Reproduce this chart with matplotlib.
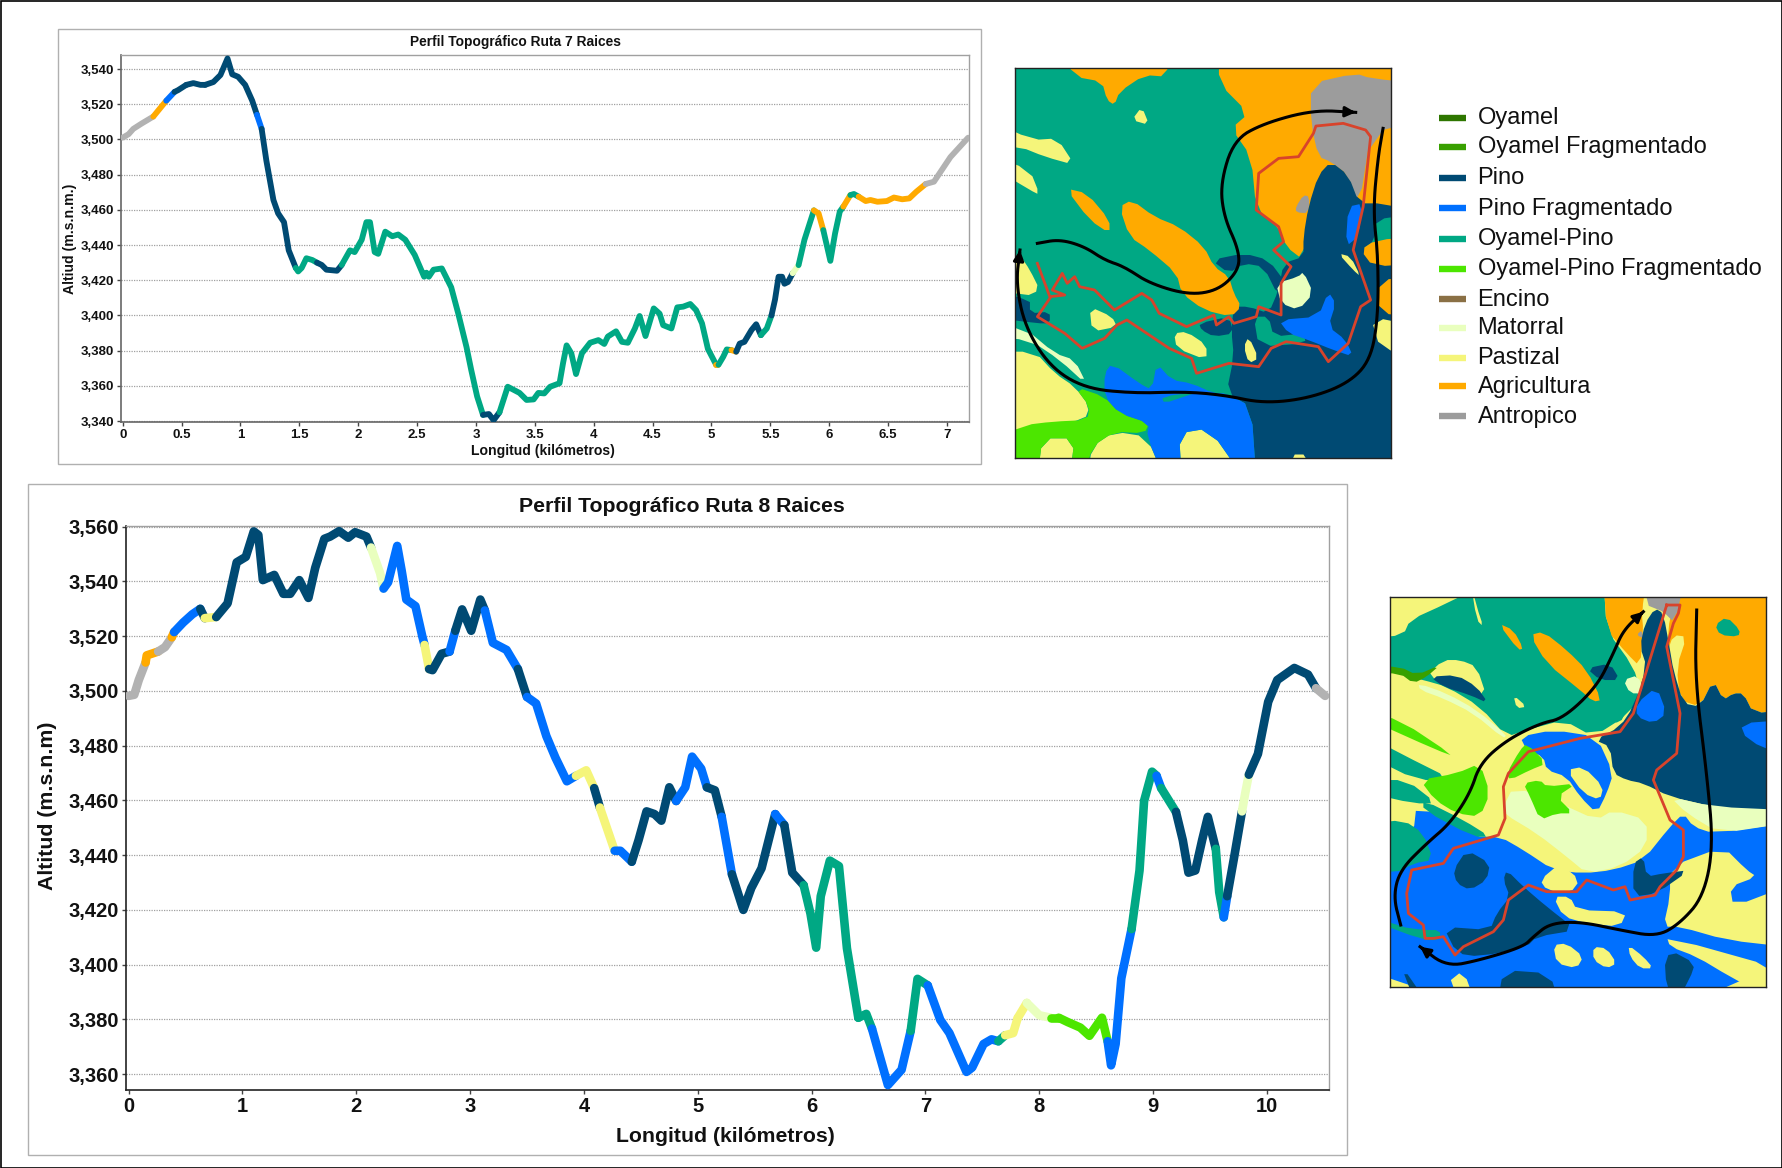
import numpy as np
import matplotlib
matplotlib.use("Agg")
import matplotlib.pyplot as plt
from matplotlib.patches import Polygon, Rectangle
from matplotlib.lines import Line2D

plt.rcParams['font.family'] = ['Liberation Sans', 'DejaVu Sans']

W, H = 1782, 1168

# ---------- legend classes ----------
class_names = ["Oyamel", "Oyamel Fragmentado", "Pino", "Pino Fragmentado", "Oyamel-Pino",
               "Oyamel-Pino Fragmentado", "Encino", "Matorral", "Pastizal", "Agricultura", "Antropico"]
class_colors = ["#2E7600", "#38A000", "#004A73", "#0070FF", "#00A884",
                "#4CE600", "#8A7045", "#E9FFBE", "#F5F57A", "#FFAA00", "#9C9C9C"]
COL = dict(zip(class_names, class_colors))
ROUTE_COL = dict(COL, Antropico="#B2B2B2")
OFG, P, PF, OP, OPF, MT, PZ, AG, AN = ("Oyamel Fragmentado", "Pino", "Pino Fragmentado", "Oyamel-Pino",
                                       "Oyamel-Pino Fragmentado", "Matorral", "Pastizal", "Agricultura", "Antropico")

# ---------- route 7 ----------
r7_title = "Perfil Topográfico Ruta 7 Raices"
r7_km = [0, .05, .09, .16, .26, .37, .44, .47, .54, .60, .66, .70, .77, .83, .89, .93, .98, 1.04, 1.10, 1.14, 1.18,
         1.22, 1.28, 1.32, 1.37, 1.41, 1.47, 1.49, 1.52, 1.56, 1.61, 1.65, 1.69, 1.73, 1.82, 1.86, 1.93, 1.97, 2.03,
         2.07, 2.10, 2.14, 2.17, 2.23, 2.29, 2.34, 2.40, 2.48, 2.56, 2.58, 2.60, 2.64, 2.71, 2.79, 2.85, 2.92, 2.96,
         3.01, 3.06, 3.11, 3.15, 3.20, 3.27, 3.37, 3.43, 3.49, 3.53, 3.58, 3.63, 3.71, 3.74, 3.77, 3.81, 3.85, 3.90,
         3.97, 4.04, 4.09, 4.12, 4.19, 4.24, 4.29, 4.35, 4.39, 4.44, 4.51, 4.56, 4.59, 4.66, 4.71, 4.76, 4.82, 4.87,
         4.92, 4.97, 5.04, 5.06, 5.10, 5.13, 5.17, 5.21, 5.24, 5.28, 5.34, 5.38, 5.42, 5.47, 5.51, 5.54, 5.57, 5.60,
         5.62, 5.65, 5.69, 5.74, 5.79, 5.87, 5.91, 5.95, 6.01, 6.05, 6.09, 6.12, 6.18, 6.21, 6.25, 6.31, 6.35, 6.41,
         6.49, 6.55, 6.62, 6.68, 6.74, 6.82, 6.89, 7.03, 7.18]
r7_alt = [3501, 3503, 3506, 3509, 3513, 3522, 3527, 3528, 3531, 3532, 3531, 3531, 3532.6, 3536.6, 3546, 3537, 3535.6,
          3531, 3522, 3514, 3506, 3488, 3465.6, 3458, 3453, 3437, 3427, 3425, 3427, 3432.5, 3431.5, 3430, 3428.7, 3426,
          3425.4, 3428.7, 3437, 3436, 3443, 3453, 3453, 3436, 3435, 3447.6, 3445, 3446, 3443, 3434.4, 3422, 3424.3,
          3422, 3426, 3426.7, 3416, 3401, 3382, 3369, 3354, 3343.5, 3344, 3340.5, 3345, 3359.5, 3356, 3352, 3352.3,
          3356, 3355.7, 3359.5, 3361.5, 3373, 3383, 3378.5, 3366.7, 3378.5, 3384.5, 3386, 3383.8, 3388, 3391, 3385,
          3384.5, 3392.6, 3399.7, 3388.3, 3404, 3401, 3394.5, 3392.6, 3404.6, 3405, 3406.5, 3403, 3395.5, 3381, 3372,
          3372, 3376.5, 3380.7, 3380.3, 3379.4, 3384, 3385, 3391.7, 3395, 3388.8, 3392.6, 3400, 3409, 3422, 3422, 3418,
          3419, 3424, 3428.6, 3443, 3459.7, 3458, 3448.5, 3431, 3446.6, 3459, 3461.8, 3468.4, 3469, 3467.5, 3465,
          3465.6, 3464.6, 3465, 3467, 3466, 3466.5, 3470.3, 3474.7, 3476, 3490, 3501]
r7_break = [.26, .37, .45, .52, .57, .68, .72, 1.14, 1.18, 1.47, 1.64, 1.86, 3.08, 3.22, 5.04, 5.06, 5.15, 5.21, 5.40,
            5.49, 5.69, 5.74, 5.87, 5.93, 6.11, 6.18, 6.23, 6.82, 7.3]
r7_class = [AN, AG, PF, P, PF, P, PZ, P, PF, P, OP, P, OP, P, OP, AG, OP, AG, P, OP, P, MT, OP, AG, OP, AG, OP, AG, AN]

# ---------- route 8 ----------
r8_title = "Perfil Topográfico Ruta 8 Raices"
r8_km = [0, .05, .09, .15, .16, .26, .32, .38, .40, .48, .56, .63, .67, .77, .87, .95, 1.03, 1.10, 1.14, 1.18, 1.28,
         1.36, 1.42, 1.50, 1.58, 1.64, 1.72, 1.77, 1.85, 1.93, 1.99, 2.09, 2.13, 2.21, 2.24, 2.28, 2.36, 2.40, 2.44,
         2.52, 2.58, 2.60, 2.64, 2.67, 2.75, 2.82, 2.87, 2.93, 3.01, 3.09, 3.13, 3.20, 3.32, 3.42, 3.50, 3.58, 3.67,
         3.75, 3.85, 3.93, 4.02, 4.09, 4.14, 4.27, 4.32, 4.42, 4.48, 4.55, 4.62, 4.68, 4.75, 4.81, 4.89, 4.95, 5.03,
         5.08, 5.15, 5.21, 5.30, 5.40, 5.47, 5.56, 5.68, 5.76, 5.83, 5.93, 5.99, 6.04, 6.08, 6.16, 6.24, 6.31, 6.41,
         6.48, 6.53, 6.67, 6.79, 6.87, 6.93, 7.02, 7.13, 7.21, 7.36, 7.41, 7.51, 7.58, 7.64, 7.70, 7.77, 7.81, 7.89,
         8.00, 8.10, 8.17, 8.25, 8.36, 8.44, 8.55, 8.60, 8.63, 8.67, 8.72, 8.81, 8.88, 8.92, 8.99, 9.03, 9.07, 9.20,
         9.26, 9.31, 9.37, 9.43, 9.48, 9.55, 9.58, 9.62, 9.65, 9.71, 9.78, 9.81, 9.84, 9.92, 10.01, 10.09, 10.24,
         10.36, 10.43, 10.51]
r8_alt = [3498.2, 3498.6, 3504, 3510.4, 3513, 3514.4, 3516, 3519.6, 3521.5, 3525, 3528, 3530, 3526.6, 3527, 3532, 3547,
          3549, 3558.3, 3557, 3540.5, 3542.4, 3535.5, 3535.5, 3540.5, 3534, 3545, 3555.6, 3556.4, 3558.4, 3556, 3558,
          3556.4, 3552.4, 3543, 3537.4, 3539.7, 3553, 3543.7, 3533.4, 3531, 3520, 3516.8, 3508, 3507.6, 3513.6, 3514.4,
          3522, 3529.8, 3522, 3533.4, 3529.4, 3517.6, 3515, 3508, 3497.8, 3495.4, 3483.5, 3475.6, 3467, 3469, 3471,
          3464.5, 3457.4, 3441.6, 3441.6, 3437.6, 3445.5, 3456, 3455, 3452.6, 3464.8, 3459.8, 3464.8, 3476, 3471.6,
          3464.8, 3463.7, 3454, 3433, 3420, 3428, 3435.2, 3455, 3451, 3433.6, 3429, 3418.6, 3406.2, 3425, 3438, 3436,
          3406, 3380.6, 3382, 3376.6, 3356, 3361.6, 3375.8, 3394.8, 3392.4, 3379.8, 3375, 3360.8, 3362.4, 3371, 3372.7,
          3372, 3374.2, 3375, 3380.5, 3386, 3381.5, 3380.6, 3380.6, 3379, 3377, 3374, 3380.6, 3372, 3363.2, 3371, 3395,
          3413, 3434.4, 3459.8, 3470.5, 3469, 3464.5, 3455.8, 3445.5, 3433.6, 3434.4, 3445.5, 3454, 3442.3, 3426.5,
          3417.3, 3425, 3439, 3456, 3463, 3469.4, 3477, 3496, 3504, 3508.4, 3506, 3501, 3498.2]
r8_break = [.15, .28, .36, .40, .62, .66, .72, 2.13, 2.23, 2.59, 2.65, 2.82, 2.90, 3.11, 3.42, 3.53, 3.93, 4.09, 4.16,
            4.27, 4.38, 4.83, 5.08, 5.21, 5.30, 5.64, 5.72, 5.92, 6.40, 6.52, 6.87, 7.00, 7.64, 7.72, 7.79, 7.83, 7.93,
            8.07, 8.14, 8.20, 8.60, 8.82, 9.03, 9.08, 9.20, 9.54, 9.60, 9.66, 9.78, 9.84, 10.43, 10.6]
r8_class = [AN, AG, AN, AG, PF, P, PZ, P, MT, PF, PZ, P, PF, P, PF, P, PF, PZ, P, PZ, PF, P, PF, P, PF, P, PF, P, OP,
            OP, PF, OP, PF, OP, PZ, PF, PZ, MT, OPF, PZ, OPF, PF, OP, PF, OP, P, OP, PF, P, MT, P, AN]

# ---------- map 1 regions (layer order) ----------
map1_regions = [
    (AG, [(120,55),(340,55),(335,80),(290,75),(240,125),(230,165),(215,150),(205,95),(150,80)]),
    (AG, [(440,55),(785,55),(785,480),(620,480),(610,630),(575,590),(560,530),(515,480),(505,320),(465,235),(500,190),(440,100)]),
    (AN, [(625,100),(715,70),(745,85),(785,100),(785,210),(745,250),(722,470),(700,375),(665,335),(640,320),(625,220)]),
    (AN, [(595,470),(610,435),(622,440),(620,490),(595,487)]),
    (P, [(665,335),(700,375),(722,460),(770,460),(780,490),(750,510),(755,570),(725,600),(785,640),(785,1224),(515,1224),(505,1070),(455,1030),(470,920),(465,840),(470,770),(500,770),(540,790),(560,720),(570,640),(610,620),(610,560),(620,470),(640,375)]),
    (AG, [(725,600),(755,570),(785,560),(785,640),(750,650)]),
    (AG, [(760,690),(785,680),(785,800),(760,790)]),
    (P, [(425,630),(490,610),(540,630),(575,700),(560,740),(530,650),(490,640),(460,670)]),
    (P, [(400,820),(460,800),(470,850),(430,860),(405,840)]),
    (OP, [(510,800),(540,800),(550,860),(610,850),(615,880),(520,890)]),
    (PF, [(700,470),(730,460),(720,560),(695,590)]),
    (PF, [(560,810),(640,800),(660,725),(675,760),(660,830),(695,870),(710,920),(670,900),(620,870),(580,850)]),
    (AG, [(240,470),(265,450),(310,500),(360,530),(410,590),(430,650),(460,680),(470,730),(485,770),(465,800),(410,780),(365,730),(355,670),(300,600),(260,560)]),
    (AG, [(132,415),(175,430),(220,510),(220,550),(180,510)]),
    (P, [(32,730),(60,745),(60,790),(100,785),(100,820),(75,820),(32,800)]),
    (PZ, [(32,205),(65,270),(115,265),(150,345),(90,320),(40,290),(32,290)]),
    (PZ, [(32,310),(60,360),(80,435),(60,420),(32,340)]),
    (PZ, [(285,170),(300,225),(265,210)]),
    (PZ, [(180,770),(225,800),(235,830),(185,845)]),
    (PZ, [(350,850),(375,845),(415,885),(415,930),(355,895)]),
    (PZ, [(500,860),(520,925),(500,940),(490,890)]),
    (PZ, [(680,610),(705,620),(725,680),(710,660)]),
    (PZ, [(745,800),(785,830),(785,905),(765,900)]),
    (PZ, [(32,650),(42,620),(60,660),(80,720),(50,740),(32,700)]),
    (PZ, [(32,905),(70,905),(110,970),(150,1010),(180,1070),(170,1110),(100,1120),(50,1140),(32,1180)]),
    (PZ, [(360,1150),(420,1135),(490,1224),(365,1224)]),
    (PZ, [(185,1190),(230,1145),(295,1160),(330,1224),(175,1224)]),
    (PZ, [(85,1165),(150,1165),(140,1224),(75,1224)]),
    (PZ, [(570,1224),(600,1190),(640,1224)]),
    (MT, [(32,830),(50,835),(110,910),(150,930),(175,1005),(120,930),(60,870),(32,860)]),
    (MT, [(555,700),(600,680),(610,665),(630,730),(600,780),(565,760)]),
    (OPF, [(150,1010),(210,1040),(240,1090),(300,1120),(290,1150),(230,1145),(185,1190),(170,1224),(140,1224),(150,1165),(85,1165),(75,1224),(32,1224),(32,1180),(50,1125),(105,1115),(175,1110),(180,1070)]),
    (PF, [(210,970),(225,940),(280,1000),(305,1020),(315,940),(345,990),(385,1000),(430,1030),(455,1030),(505,1070),(515,1224),(490,1224),(420,1135),(360,1150),(365,1224),(330,1224),(295,1160),(300,1120),(240,1090),(210,1040)]),
    (OP, [(325,1040),(400,1025),(370,1040),(330,1060)]),
]
map1_route = [(75,640),(100,740),(130,735),(105,720),(125,670),(135,700),(150,680),(160,710),(190,720),(230,780),(285,730),(305,750),(320,790),(375,830),(430,795),(435,825),(460,800),(470,820),(515,800),(520,770),(565,795),(565,700),(585,650),(550,600),(570,575),(560,530),(515,480),(520,370),(560,325),(600,320),(630,250),(635,228),(690,220),(735,240),(745,260),(730,470),(710,600),(745,750),(725,770),(700,880),(660,935),(640,890),(575,875),(545,895),(520,950),(460,940),(395,970),(385,925),(340,895),(255,810),(235,825),(210,865),(165,895),(130,850),(75,800),(100,745)]
map1_arrows = [
    [(770,235),(760,320),(750,480),(760,620),(760,800),(745,930),(700,1000),(620,1045),(530,1060),(450,1035),(370,1025),(270,1030),(170,1015),(100,950),(50,830),(32,700),(40,600)],
    [(75,580),(120,568),(170,590),(210,630),(250,650),(300,700),(380,735),(440,720),(480,660),(480,600),(450,500),(443,400),(470,270),(530,220),(630,180),(715,187)],
]

# ---------- map 2 regions (layer order) ----------
map2_regions = [
    (OP, [(29,175),(70,165),(90,120),(200,70),(350,55),(670,50),(680,150),(760,260),(780,330),(750,400),(640,470),(550,420),(440,450),(380,470),(300,380),(200,320),(130,300),(29,260)]),
    (PZ, [(270,55),(290,80),(310,140),(290,120)]),
    (PZ, [(240,240),(290,260),(320,350),(250,320),(135,290),(190,240)]),
    (PZ, [(400,345),(440,380),(410,385)]),
    (P, [(150,290),(230,285),(290,320),(325,370),(270,345),(190,320)]),
    (MT, [(115,310),(200,340),(290,390),(380,465),(370,475),(280,400),(190,355),(120,330)]),
    (OFG, [(29,260),(60,260),(110,285),(180,255),(140,290),(100,310),(60,280),(29,280)]),
    (AG, [(670,50),(800,50),(785,100),(790,150),(780,260),(740,220),(680,150)]),
    (AG, [(910,50),(1157,50),(1157,390),(1120,400),(1090,340),(1060,340),(1030,360),(1000,300),(960,380),(900,360),(890,260),(920,170),(880,165),(860,220),(870,100)]),
    (AG, [(355,130),(400,150),(430,205),(415,210)]),
    (AG, [(450,165),(490,155),(560,210),(620,270),(665,360),(640,365),(600,330),(500,250)]),
    (OP, [(1005,135),(1040,110),(1080,150),(1075,170),(1020,165)]),
    (AN, [(800,50),(915,50),(885,130),(850,95),(825,85),(800,75)]),
    (AN, [(770,165),(785,150),(790,175)]),
    (P, [(825,85),(850,100),(870,210),(880,270),(910,370),(960,380),(1000,300),(1030,360),(1060,340),(1090,340),(1120,400),(1157,390),(1157,690),(1100,690),(1000,680),(870,650),(790,610),(740,600),(700,580),(690,500),(645,480),(720,440),(760,380),(800,260),(780,200),(795,130)]),
    (P, [(620,265),(690,250),(720,300),(660,300)]),
    (OP, [(690,350),(740,390),(720,430),(680,420)]),
    (MT, [(730,300),(775,285),(790,340),(750,340)]),
    (PF, [(29,860),(100,760),(110,670),(280,770),(360,770),(430,810),(520,870),(610,880),(700,870),(790,840),(870,740),(910,700),(940,740),(1000,760),(1157,730),(1157,1220),(29,1220)]),
    (PF, [(420,470),(520,450),(650,470),(700,580),(680,640),(650,700),(600,650),(560,590),(500,570),(490,530),(440,510)]),
    (PF, [(770,370),(830,320),(860,400),(820,430),(770,410)]),
    (PF, [(1080,430),(1157,420),(1157,530),(1100,480)]),
    (OP, [(29,730),(70,720),(130,760),(160,840),(100,850),(50,880),(29,860)]),
    (OP, [(29,1000),(60,1040),(130,1050),(180,1050),(180,1080),(130,1080),(29,1020)]),
    (OP, [(130,660),(250,720),(330,770),(280,770),(130,690)]),
    (OP, [(29,470),(60,520),(220,600),(110,600),(29,530)]),
    (OP, [(29,600),(80,600),(170,670),(100,670),(29,640)]),
    (PZ, [(520,1095),(560,1090),(610,1130),(590,1165),(530,1150)]),
    (PZ, [(640,1100),(680,1105),(710,1150),(680,1165),(640,1140)]),
    (PZ, [(745,1095),(790,1130),(820,1165),(780,1165),(750,1130)]),
    (PZ, [(860,1070),(1157,1170),(1157,1220),(1050,1190),(950,1130),(870,1100)]),
    (PZ, [(520,950),(570,950),(590,990),(740,995),(720,1040),(620,1030),(550,1010)]),
    (PZ, [(870,860),(1030,800),(1100,870),(1130,890),(1050,920),(1060,980),(1157,920),(1157,1100),(1040,1080),(900,1040),(850,1040),(870,950)]),
    (PZ, [(560,570),(610,560),(670,620),(660,660),(610,640)]),
    (PZ, [(480,900),(540,850),(600,900),(570,940),(500,930)]),
    (PZ, [(200,1210),(250,1170),(290,1220)]),
    (MT, [(370,680),(400,620),(540,670),(650,720),(700,690),(800,720),(800,800),(720,860),(620,880),(560,830),(470,760),(370,700)]),
    (MT, [(870,650),(1000,680),(1157,690),(1157,730),(1020,760),(920,700)]),
    (OPF, [(380,580),(420,510),(440,490),(500,550),(450,570),(390,600)]),
    (OPF, [(120,600),(230,580),(300,550),(330,640),(300,710),(230,700),(165,660)]),
    (OPF, [(430,610),(480,600),(500,620),(590,610),(530,650),(580,700),(530,700),(480,720),(450,650)]),
    (OPF, [(29,400),(60,420),(225,530),(170,510),(29,420)]),
    (P, [(380,870),(430,920),(500,980),(590,1050),(470,1070),(440,1100),(300,1130),(230,1120),(190,1040),(330,1050),(350,1000),(390,950),(370,900)]),
    (P, [(220,870),(260,810),(330,850),(320,900),(270,930),(230,910)]),
    (P, [(760,850),(790,830),(800,890),(850,880),(930,870),(830,940),(760,950)]),
    (P, [(350,1220),(370,1170),(510,1180),(540,1220)]),
    (P, [(850,1170),(870,1110),(945,1150),(930,1195),(880,1220)]),
    (P, [(60,1150),(150,1220),(110,1220)]),
]
map2_route = [(860,75),(900,75),(895,100),(880,130),(860,200),(880,300),(900,400),(890,520),(830,570),(820,600),(870,720),(910,750),(910,830),(890,870),(840,920),(825,945),(750,960),(735,920),(700,930),(620,900),(590,935),(500,935),(445,915),(385,960),(370,1020),(340,1055),(250,1100),(225,1125),(190,1070),(160,1075),(135,1075),(130,1035),(85,1000),(80,940),(95,870),(190,850),(220,805),(355,765),(375,715),(370,620),(385,580),(445,515),(600,475),(720,455),(760,400),(800,270),(860,75)]
map2_arrows = [
    [(950,90),(945,300),(980,580),(1000,800),(970,950),(900,1030),(830,1070),(720,1050),(600,1025),(510,1030),(460,1070),(430,1100),(300,1140),(200,1160),(120,1100)],
    [(62,1035),(40,950),(60,870),(140,790),(210,730),(270,640),(300,550),(380,480),(480,430),(550,415),(650,320),(700,220),(730,150),(790,95)],
]


def chaikin(pts, closed=True, n=2):
    pts = np.asarray(pts, float)
    for _ in range(n):
        if closed:
            a, b = pts, np.roll(pts, -1, axis=0)
            pts = np.column_stack([.75*a + .25*b, .25*a + .75*b]).reshape(-1, 2)
        else:
            a, b = pts[:-1], pts[1:]
            mid = np.column_stack([.75*a + .25*b, .25*a + .75*b]).reshape(-1, 2)
            pts = np.vstack([pts[0], mid, pts[-1]])
    return pts


def push_out(pts, xlim, ylim):
    """Regions that touch the map frame run past it, so smoothing keeps the corners."""
    out = []
    for x, y in pts:
        if x <= xlim[0] + 6:
            x -= 60
        elif x >= xlim[1] - 6:
            x += 60
        if y <= min(ylim) + 6:
            y -= 60
        elif y >= max(ylim) - 6:
            y += 60
        out.append((x, y))
    return out


def px_axes(l, t, r, b, **kw):
    return fig.add_axes([l/W, 1-b/H, (r-l)/W, (b-t)/H], **kw)


fig = plt.figure(figsize=(W/100, H/100), dpi=100, facecolor="white")

# page overlay: outer frame, panel frames, legend
bg = fig.add_axes([0, 0, 1, 1], zorder=0)
bg.set_xlim(0, W); bg.set_ylim(H, 0); bg.axis("off")
bg.add_patch(Rectangle((0.5, 0.5), W-1, H-1, fill=False, ec="black", lw=1.2))
bg.add_patch(Rectangle((58, 28.5), 923, 435, fill=False, ec="#B0B0B0", lw=1))
bg.add_patch(Rectangle((28, 483.5), 1318.5, 671, fill=False, ec="#B0B0B0", lw=1))

legend_y = [117.7, 147, 178, 208, 239, 269, 299, 328, 358, 386, 416]
for name, col, y in zip(class_names, class_colors, legend_y):
    bg.add_line(Line2D([1439, 1466], [y, y], color=col, lw=4.6, solid_capstyle="butt"))
    bg.text(1477.5, y+0.5, name, fontsize=17, va="center", ha="left", color="#111111")


def profile(box, km, alt, brk, cls, xlim, ylim, xticks, xlabels, yticks, title, ylabel, lw,
            fs_tick, fs_title, fs_label, title_xy, xlabel_xy, ylabel_xy, spine_col):
    l, t, r, b = box
    ax = px_axes(l, t, r, b, zorder=1, facecolor="white")
    ax.set_xlim(xlim); ax.set_ylim(ylim)
    km = np.asarray(km); alt = np.asarray(alt)
    mids = (km[:-1] + km[1:]) / 2
    idx = np.searchsorted(brk, mids)
    start = 0
    ax.set_axisbelow(True)
    ax.yaxis.grid(True, color="#A0A0A0", lw=0.9, ls=(0, (1, 1)))
    for i in range(1, len(idx)+1):
        if i == len(idx) or idx[i] != idx[start]:
            ax.plot(km[start:i+1], alt[start:i+1], color=ROUTE_COL[cls[idx[start]]], lw=lw,
                    solid_capstyle="round", solid_joinstyle="round", zorder=3)
            start = i
    ax.set_xticks(xticks); ax.set_xticklabels(xlabels)
    ax.set_yticks(yticks); ax.set_yticklabels([f"{v:,}" for v in yticks])
    ax.tick_params(axis="both", length=3, width=1, labelsize=fs_tick, color="#444444", pad=2)
    for lab in ax.get_xticklabels() + ax.get_yticklabels():
        lab.set_fontweight("bold"); lab.set_color("#111111")
    for s in ("left", "bottom"):
        ax.spines[s].set_color(spine_col); ax.spines[s].set_linewidth(1.2)
    for s in ("top", "right"):
        ax.spines[s].set_color("#A0A0A0"); ax.spines[s].set_linewidth(1.0)
    bg.text(*title_xy, title, fontsize=fs_title, fontweight="bold", ha="center", va="center", color="#111111")
    ax.set_xlabel("Longitud (kilómetros)", fontsize=fs_label, fontweight="bold", color="#111111")
    ax.xaxis.set_label_coords((xlabel_xy[0]-l)/(r-l), (b-xlabel_xy[1])/(b-t))
    ax.xaxis.label.set_va("center")
    ax.set_ylabel(ylabel, fontsize=fs_label, fontweight="bold", color="#111111")
    ax.yaxis.set_label_coords((ylabel_xy[0]-l)/(r-l), (b-ylabel_xy[1])/(b-t))
    ax.yaxis.label.set_va("center")
    return ax


profile((120.7, 55.3, 969.3, 422.3), r7_km, r7_alt, r7_break, r7_class,
        (-0.017, 7.19), (3339.3, 3547.8), [i*.5 for i in range(15)],
        ["0", "0.5", "1", "1.5", "2", "2.5", "3", "3.5", "4", "4.5", "5", "5.5", "6", "6.5", "7"],
        list(range(3340, 3541, 20)), r7_title, "Altiud (m.s.n.m.)", 4.2,
        9.5, 9.9, 10.1, (516, 42), (543, 451), (70, 239), "#666666")

profile((125.8, 526.2, 1329.2, 1089.7), r8_km, r8_alt, r8_break, r8_class,
        (-0.024, 10.546), (3354.3, 3560.2), list(range(11)), [str(i) for i in range(11)],
        list(range(3360, 3561, 20)), r8_title, "Altitud (m.s.n.m)", 6.2,
        14.5, 15.3, 15.3, (682, 506), (725, 1136), (48, 806), "#222222")


def draw_map(box, xlim, ylim, base, regions, route, arrows, red_lw, black_lw):
    ax = px_axes(*box, zorder=1, facecolor=COL[base])
    ax.set_xlim(xlim); ax.set_ylim(ylim)
    ax.set_xticks([]); ax.set_yticks([])
    for name, pts in regions:
        ax.add_patch(Polygon(chaikin(push_out(pts, xlim, ylim), n=1), closed=True, fc=COL[name], ec="none"))
    r = np.asarray(route, float)
    ax.plot(r[:, 0], r[:, 1], color="#D8432B", lw=red_lw, solid_joinstyle="round")
    for a in arrows:
        c = chaikin(a, closed=False, n=3)
        ax.plot(c[:, 0], c[:, 1], color="black", lw=black_lw)
        ax.annotate("", xy=c[-1], xytext=c[-4],
                    arrowprops=dict(arrowstyle="-|>,head_length=0.6,head_width=0.3", color="black", lw=black_lw,
                                    shrinkA=0, shrinkB=0))
    for s in ax.spines.values():
        s.set_color("#222222"); s.set_linewidth(1)


draw_map((1015, 67.7, 1390.5, 458), (30, 785), (1224, 53), OP, map1_regions, map1_route, map1_arrows, 2.0, 2.2)
draw_map((1389.7, 596.7, 1765.7, 986.7), (29, 1157), (1220, 50), PZ, map2_regions, map2_route, map2_arrows, 2.0, 2.2)

fig.savefig("out.png", dpi=100, facecolor="white")
